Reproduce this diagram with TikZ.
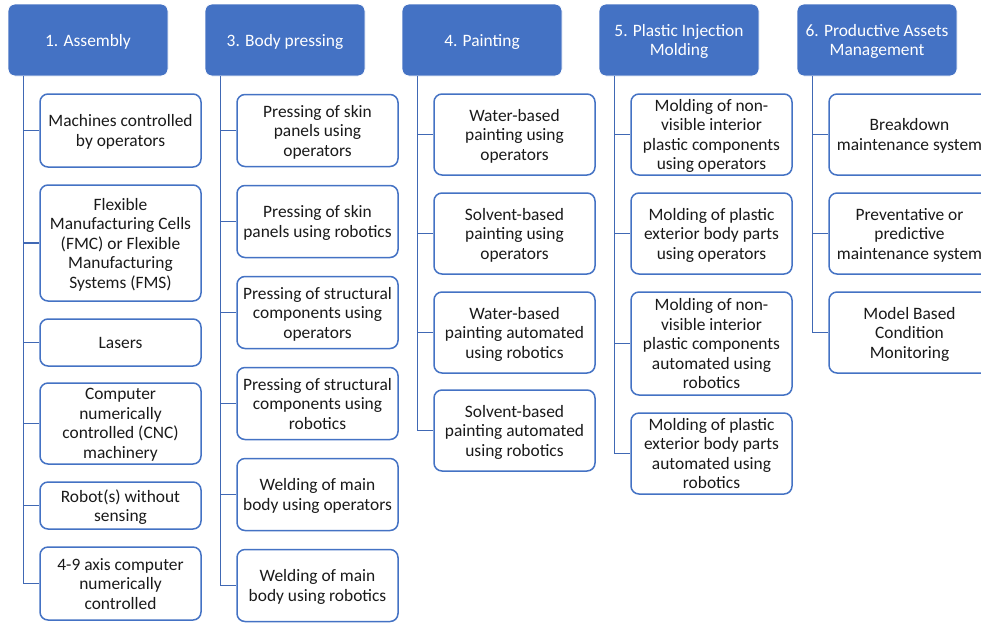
\documentclass[tikz,border=0pt]{standalone}
\usepackage{fontspec}
\setmainfont{Carlito}
\definecolor{hdrblue}{HTML}{4472C4}
\definecolor{linkblue}{HTML}{4068B4}
\definecolor{ink}{HTML}{1A1A1A}
\tikzset{
  boxfont/.style={font=\fontsize{17.4}{19.5}\selectfont, text depth=0pt},
  hdr/.style={rectangle, rounded corners=7pt, fill=hdrblue, draw=white, line width=0.8pt,
    text=white, align=center, inner sep=0pt, minimum width=160pt, minimum height=72pt,
    boxfont},
  leaf/.style={rectangle, rounded corners=8pt, fill=white, draw=hdrblue, line width=1.5pt,
    text=ink, align=center, inner sep=0pt, minimum width=161pt, boxfont},
  link/.style={draw=linkblue, line width=1.5pt},
}
\begin{document}
\begin{tikzpicture}[x=1pt, y=-1pt]
\useasboundingbox (0,0) rectangle (981,622);
\clip (0,0) rectangle (981,622);
\fill[white] (0,0) rectangle (981,622);

% column headers
\node[hdr] (h1) at (88,40) {1. Assembly};
\node[hdr] (h3) at (285,40) {3. Body pressing};
\node[hdr] (h4) at (482,40) {4. Painting};
\node[hdr] (h5) at (679,40) {5. Plastic Injection\\Molding};
\node[hdr] (h6) at (877,40) {6. Productive Assets\\Management};

% 1. Assembly
\node[leaf, minimum height=73pt] (a1) at (120.5,130.5) {Machines controlled\\by operators};
\node[leaf, minimum height=116pt] (a2) at (120.5,243) {Flexible\\Manufacturing Cells\\(FMC) or Flexible\\Manufacturing\\Systems (FMS)};
\node[leaf, minimum height=47pt] (a3) at (120.5,342.5) {Lasers};
\node[leaf, minimum height=81pt] (a4) at (120.5,423.5) {Computer\\numerically\\controlled (CNC)\\machinery};
\node[leaf, minimum height=47pt] (a5) at (120.5,505.5) {Robot(s) without\\sensing};
\node[leaf, minimum height=73pt] (a6) at (120.5,583.5) {4-9 axis computer\\numerically\\controlled};

% 3. Body pressing
\node[leaf, minimum height=72pt] (b1) at (317.5,130.5) {Pressing of skin\\panels using\\operators};
\node[leaf, minimum height=72pt] (b2) at (317.5,221.5) {Pressing of skin\\panels using robotics};
\node[leaf, minimum height=72pt] (b3) at (317.5,312.5) {Pressing of structural\\components using\\operators};
\node[leaf, minimum height=72pt] (b4) at (317.5,403.5) {Pressing of structural\\components using\\robotics};
\node[leaf, minimum height=72pt] (b5) at (317.5,494.5) {Welding of main\\body using operators};
\node[leaf, minimum height=72pt] (b6) at (317.5,585.5) {Welding of main\\body using robotics};

% 4. Painting
\node[leaf, minimum height=81pt] (p1) at (514.5,134.5) {Water-based\\painting using\\operators};
\node[leaf, minimum height=81pt] (p2) at (514.5,233.5) {Solvent-based\\painting using\\operators};
\node[leaf, minimum height=81pt] (p3) at (514.5,332.5) {Water-based\\painting automated\\using robotics};
\node[leaf, minimum height=81pt] (p4) at (514.5,430.5) {Solvent-based\\painting automated\\using robotics};

% 5. Plastic Injection Molding
\node[leaf, minimum height=81pt] (m1) at (711.5,134.5) {Molding of non-\\visible interior\\plastic components\\using operators};
\node[leaf, minimum height=81pt] (m2) at (711.5,233.5) {Molding of plastic\\exterior body parts\\using operators};
\node[leaf, minimum height=103pt] (m3) at (711.5,343.5) {Molding of non-\\visible interior\\plastic components\\automated using\\robotics};
\node[leaf, minimum height=81pt] (m4) at (711.5,453.5) {Molding of plastic\\exterior body parts\\automated using\\robotics};

% 6. Productive Assets Management
\node[leaf, minimum height=81pt] (r1) at (909.5,134.5) {Breakdown\\maintenance system};
\node[leaf, minimum height=81pt] (r2) at (909.5,233.5) {Preventative or\\predictive\\maintenance system};
\node[leaf, minimum height=81pt] (r3) at (909.5,332.5) {Model Based\\Condition\\Monitoring};

% tree connectors: trunk from each header, branch to each item
\foreach \h/\items in {h1/{a1,a2,a3,a4,a5,a6}, h3/{b1,b2,b3,b4,b5,b6},
                       h4/{p1,p2,p3,p4}, h5/{m1,m2,m3,m4}, h6/{r1,r2,r3}} {
  \foreach \c in \items {
    \draw[link] ([xshift=16pt]\h.south west) |- (\c.west);
  }
}
\end{tikzpicture}
\end{document}
